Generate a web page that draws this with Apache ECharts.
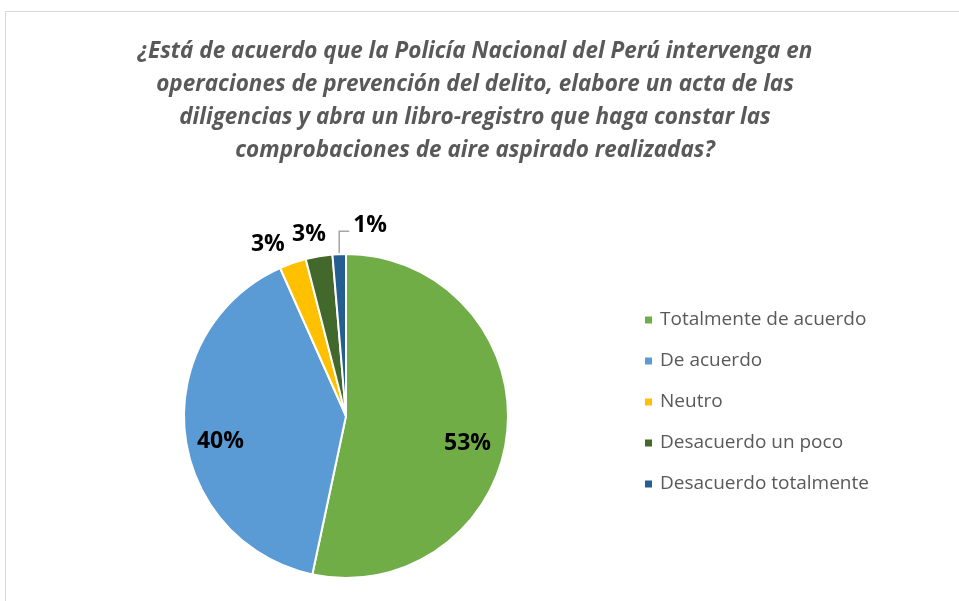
<!DOCTYPE html>
<html><head><meta charset="utf-8">
<script src="https://cdn.jsdelivr.net/npm/echarts@6/dist/echarts.min.js"></script>
<style>html,body{margin:0;padding:0;background:#fff}#c{width:959px;height:601px}</style>
</head><body><div id="c"></div>
<script>
const titleText = "¿Está de acuerdo que la Policía Nacional del Perú intervenga en\noperaciones de prevención del delito, elabore un acta de las\ndiligencias y abra un libro-registro que haga constar las\ncomprobaciones de aire aspirado realizadas?";
const categories = ["Totalmente de acuerdo","De acuerdo","Neutro","Desacuerdo un poco","Desacuerdo totalmente"];
const values = [40, 30, 2, 2, 1];
const colors = ["#70AD47","#5B9BD5","#FFC000","#43682B","#255E91"];
const labelPositions = ["inside","inside","outside","outside","outside"];
const labelShift = [[38,19],[-42,17],[-1,-7],[12,-10],[0,0]];
const total = values.reduce((a,b)=>a+b,0);

const CX = 346, CY = 416, R = 162;
function sliceEdge(i){
  let cum = 0; for (let k=0;k<i;k++) cum += values[k];
  const th = (cum + values[i]/2)/total*2*Math.PI;
  return [CX + R*Math.sin(th), CY - R*Math.cos(th)];
}

const chart = echarts.init(document.getElementById('c'));
chart.setOption({
  animation:false,
  graphic:[{type:'rect',shape:{x:5.5,y:11.5,width:1000,height:700},style:{fill:'none',stroke:'#d9d9d9',lineWidth:1},silent:true}],
  title:{text:titleText,left:470,textAlign:'center',top:30,
    textStyle:{fontFamily:'Open Sans',fontStyle:'italic',fontWeight:'bold',fontSize:22.5,color:'#595959',lineHeight:33}},
  legend:{orient:'vertical',left:638,top:305,icon:'rect',itemWidth:9,itemHeight:9,itemGap:21,
    data:categories,
    textStyle:{fontFamily:'Open Sans',fontSize:19,color:'#595959',lineHeight:20,padding:[0,0,0,2]}},
  series:[{
    type:'pie',center:[CX,CY],radius:[0,R],startAngle:90,clockwise:true,
    avoidLabelOverlap:false,
    itemStyle:{borderColor:'#fff',borderWidth:2},
    data:categories.map((n,i)=>({name:n,value:values[i],itemStyle:{color:colors[i]},
      label:{position:labelPositions[i]},
      labelLine:{show:i===4,lineStyle:{color:'#a6a6a6',width:1.5}}})),
    label:{show:true,fontFamily:'Open Sans',fontWeight:'bold',fontSize:23,color:'#000',
      formatter:p=>Math.round(p.value/total*100)+'%',distanceToLabelLine:3},
    labelLine:{length:12,length2:0},
    labelLayout:p=>{
      const i = p.dataIndex;
      if (i === 4) {
        const s = sliceEdge(i);
        const top = s[1] - 23;
        return {x: s[0] + 14, y: top - 6, align:'left', verticalAlign:'middle',
          labelLinePoints:[[s[0], s[1]-1],[s[0], top],[s[0]+10, top]]};
      }
      return {dx:labelShift[i][0],dy:labelShift[i][1]};
    }
  }]
});
</script></body></html>
